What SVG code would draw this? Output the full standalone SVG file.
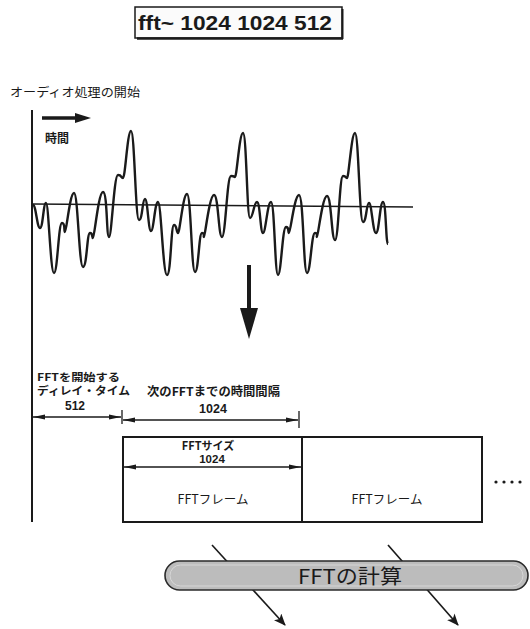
<svg xmlns="http://www.w3.org/2000/svg" width="530" height="629" viewBox="0 0 530 629">
<style>
.jp{font-family:"Noto Sans CJK JP","Noto Sans",sans-serif;fill:#1a1a1a}
.lat{font-family:"Liberation Sans","Noto Sans CJK JP",sans-serif;fill:#1a1a1a}
.b{font-weight:bold}
.ln{stroke:#1a1a1a;fill:none}
.dim{stroke:#1a1a1a;stroke-width:1.3;fill:none;marker-start:url(#dh);marker-end:url(#dh)}
.frame{fill:#fff;stroke:#1a1a1a;stroke-width:2}
</style>
<defs>
<marker id="dh" viewBox="0 0 12 6" refX="12" refY="3" markerWidth="12" markerHeight="6" markerUnits="userSpaceOnUse" orient="auto-start-reverse">
<path d="M0,0.5 L12,3 L0,5.5 Z" fill="#1a1a1a"/>
</marker>
<marker id="ah" viewBox="0 0 12 10" refX="11" refY="5" markerWidth="12" markerHeight="10" markerUnits="userSpaceOnUse" orient="auto">
<path d="M0,0 L12,5 L0,10 L3,5 Z" fill="#1a1a1a"/>
</marker>
</defs>
<rect width="530" height="629" fill="#fff"/>

<g id="command">
<rect x="135" y="7" width="207" height="31" fill="#fbfbfb" stroke="#1a1a1a" stroke-width="1.5"/>
<line x1="137" y1="38.5" x2="343" y2="38.5" stroke="#1a1a1a" stroke-width="2.5"/>
<line x1="342.5" y1="9" x2="342.5" y2="39" stroke="#1a1a1a" stroke-width="2"/>
<text class="lat b" x="138" y="30" font-size="21" textLength="194" lengthAdjust="spacingAndGlyphs">fft~ 1024 1024 512</text>
</g>

<g id="start-label">
<text class="jp" x="10" y="97" font-size="12.5" textLength="130" lengthAdjust="spacingAndGlyphs">オーディオ処理の開始</text>
</g>

<g id="time-axis">
<line class="ln" x1="32" y1="110" x2="32" y2="522" stroke-width="2"/>
<line class="ln" x1="42" y1="118" x2="78" y2="118" stroke-width="3.5"/>
<polygon points="75,113 91,118 75,123" fill="#1a1a1a"/>
<text class="jp b" x="45" y="143" font-size="12">時間</text>
</g>

<g id="waveform">
<line class="ln" x1="33" y1="204" x2="413" y2="207" stroke-width="1.5"/>
<path class="ln" stroke-width="2.4" stroke-linejoin="round" d="M33 205 C36 205 37 228 40 228 S43.3 203 46 203 S50.4 273 54 273 S58.4 223 62 223 S63.65 232 65 232 S69.95 193 74 193 S78.95 267 83 267 S86.85 233 90 233 S91.65 238 93 238 S98.5 192 103 192 S106.3 237 109 237 S113.95 175 118 175 S120.75 178 123 178 S127.4 131 131 131 S135.4 220 139 220 S142.3 199 145 199 S148.3 231 151 231 S154.85 202 158 202 S162.95 275 167 275 S170.85 225 174 225 S176.2 233 178 233 S182.95 194 187 194 S191.4 272 195 272 S198.85 233 202 233 S203.1 237 204 237 S209.5 195 214 195 S218.4 237 222 237 S226.95 176 231 176 S233.2 177 235 177 S239.4 133 243 133 S246.85 218 250 218 S253.85 202 257 202 S260.3 233 263 233 S267.4 202 271 202 S274.85 275 278 275 S282.4 227 286 227 S287.65 233 289 233 S294.5 195 299 195 S303.4 273 307 273 S311.4 233 315 233 S316.1 237 317 237 S322.5 196 327 196 S331.4 240 335 240 S339.4 176 343 176 S345.2 178 347 178 S351.4 133 355 133 S359.4 222 363 222 S366.3 203 369 203 S372.85 233 376 233 S379.85 202 383 202 S385.75 244 388 244"/>
</g>

<g id="labels">
<text class="jp b" x="37" y="380.5" font-size="10.5" textLength="83" lengthAdjust="spacingAndGlyphs">FFTを開始する</text>
<text class="jp b" x="37" y="395" font-size="11" textLength="93" lengthAdjust="spacingAndGlyphs">ディレイ・タイム</text>
<text class="lat b" x="75" y="410" font-size="12" text-anchor="middle">512</text>
<text class="jp b" x="147" y="396" font-size="12" textLength="133" lengthAdjust="spacingAndGlyphs">次のFFTまでの時間間隔</text>
<text class="lat b" x="213" y="413" font-size="12.5" text-anchor="middle">1024</text>
</g>

<g id="frame-1">
<rect class="frame" x="123" y="437" width="179" height="85"/>
<text class="jp b" x="208" y="450" font-size="11" text-anchor="middle">FFTサイズ</text>
<text class="lat b" x="212" y="463" font-size="11.5" text-anchor="middle">1024</text>
<text class="jp" x="213" y="504" font-size="12.5" text-anchor="middle">FFTフレーム</text>
</g>

<g id="frame-2">
<rect class="frame" x="302" y="437" width="180" height="85"/>
<text class="jp" x="387" y="504" font-size="12.5" text-anchor="middle">FFTフレーム</text>
</g>

<g id="ellipsis" fill="#1a1a1a">
<circle cx="496" cy="482" r="1.6"/>
<circle cx="504" cy="482" r="1.6"/>
<circle cx="512" cy="482" r="1.6"/>
<circle cx="520" cy="482" r="1.6"/>
</g>

<g id="connectors">
<line class="dim" x1="33" y1="417" x2="121" y2="417"/>
<line class="ln" x1="122" y1="410" x2="122" y2="424" stroke-width="1.3"/>
<line class="dim" x1="123" y1="420" x2="298" y2="420"/>
<line class="ln" x1="299" y1="411" x2="299" y2="428" stroke-width="1.3"/>
<line class="dim" x1="124" y1="467" x2="301" y2="467"/>
<line class="ln" x1="249" y1="265" x2="249" y2="312" stroke-width="4"/>
<polygon points="240,308 258,308 249,339" fill="#1a1a1a"/>
<line class="ln" x1="212" y1="545" x2="285" y2="625" stroke-width="1.6" marker-end="url(#ah)"/>
<line class="ln" x1="388" y1="545" x2="458" y2="625" stroke-width="1.6" marker-end="url(#ah)"/>
</g>

<g id="fft-compute">
<rect x="165" y="561" width="363" height="29" rx="14.5" fill="#bcbcbc" stroke="#2a2a2a" stroke-width="1.6"/>
<rect x="170" y="565" width="353" height="21" rx="10.5" fill="none" stroke="#d6d6d6" stroke-width="1"/>
<text class="jp" x="298" y="584" font-size="20" textLength="104" lengthAdjust="spacingAndGlyphs" fill="#1a1a1a">FFTの計算</text>
</g>
</svg>
